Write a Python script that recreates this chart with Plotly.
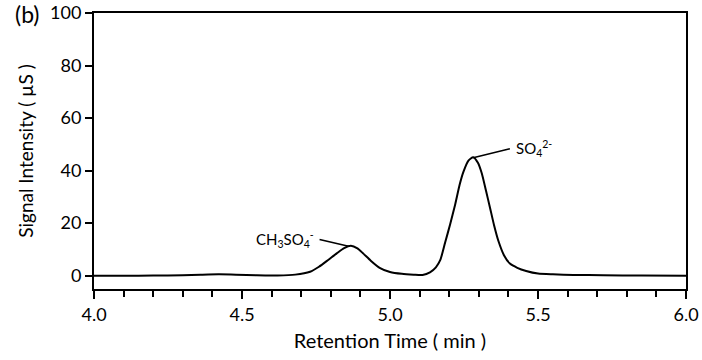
import plotly.graph_objects as go

# Retention time (min) and signal intensity (µS)
time_min = [4.00, 4.10, 4.20, 4.30, 4.36, 4.42, 4.48, 4.55, 4.62, 4.68, 4.73, 4.76, 4.79, 4.82,
            4.845, 4.868, 4.89, 4.91, 4.935, 4.965, 5.00, 5.04, 5.08, 5.11, 5.135, 5.155, 5.17,
            5.186, 5.203, 5.22, 5.235, 5.248, 5.265, 5.281, 5.297, 5.31, 5.324, 5.338, 5.352,
            5.366, 5.385, 5.405, 5.43, 5.46, 5.50, 5.55, 5.62, 5.72, 5.85, 6.00]
signal_us = [0.0, 0.0, 0.05, 0.15, 0.35, 0.5, 0.4, 0.15, 0.1, 0.4, 1.5, 3.4, 5.9, 8.5,
             10.5, 11.4, 10.4, 8.4, 5.7, 3.0, 1.4, 0.7, 0.4, 0.3, 1.3, 3.2, 6.0,
             12.5, 19.5, 27.0, 34.5, 39.5, 43.8, 45.1, 43.0, 39.0, 32.5, 25.8, 19.0,
             13.3, 7.8, 4.6, 3.0, 1.8, 0.8, 0.5, 0.3, 0.15, 0.05, 0.0]

# Peak labels
peak_names = ["CH<sub>3</sub>SO<sub>4</sub><sup>-</sup>", "SO<sub>4</sub><sup>2-</sup>"]
peak_index = [15, 33]
label_time = [4.757, 5.41]
label_signal = [13.9, 48.5]
label_side = ["right", "left"]

x_ticks = [4.0, 4.5, 5.0, 5.5, 6.0]
x_tick_text = ["4.0", "4.5", "5.0", "5.5", "6.0"]
y_ticks = [0, 20, 40, 60, 80, 100]

FONT = "Lato, 'Open Sans', sans-serif"

fig = go.Figure()
fig.add_trace(go.Scatter(x=time_min, y=signal_us, mode="lines",
                         line=dict(color="black", width=2, shape="spline", smoothing=0.6),
                         hoverinfo="skip", showlegend=False))

annotations = []
for name, idx, lx, ly, side in zip(peak_names, peak_index, label_time, label_signal, label_side):
    px, py = time_min[idx], signal_us[idx]
    annotations.append(dict(x=px - 0.008 if side == "right" else px, y=py - 0.2,
                            ax=lx, ay=ly, axref="x", ayref="y",
                            xref="x", yref="y", text="", showarrow=True,
                            arrowhead=0, arrowwidth=1.6, arrowcolor="black"))
    shift = -2 if side == "right" else 3
    annotations.append(dict(x=lx, y=ly, xref="x", yref="y", text=name, showarrow=False,
                            xanchor=side, yanchor="middle", xshift=shift,
                            font=dict(family=FONT, size=15, color="black")))

annotations.append(dict(x=-0.137, y=0.995, xref="paper", yref="paper", text="(b)",
                        showarrow=False, xanchor="left", yanchor="middle",
                        font=dict(family=FONT, size=23, color="black")))

fig.update_layout(
    width=702, height=360,
    margin=dict(l=94, r=16, t=13, b=71, autoexpand=False),
    paper_bgcolor="white", plot_bgcolor="white",
    font=dict(family=FONT, size=18, color="black"),
    annotations=annotations,
    xaxis=dict(range=[4.0, 6.0], tickvals=x_ticks, ticktext=x_tick_text,
               ticks="outside", ticklen=8, tickwidth=1.6, tickcolor="black",
               minor=dict(dtick=0.1, ticks="outside", ticklen=6, tickwidth=1.6, tickcolor="black"),
               showline=True, linecolor="black", linewidth=2, mirror=True,
               showgrid=False, zeroline=False, automargin=False,
               title=dict(text="Retention Time ( min )", standoff=10,
                          font=dict(family=FONT, size=20))),
    yaxis=dict(range=[-5.07, 100], tickvals=y_ticks,
               ticks="outside", ticklen=7, tickwidth=1.6, tickcolor="black",
               showline=True, linecolor="black", linewidth=2, mirror=True,
               showgrid=False, zeroline=False, automargin=False,
               title=dict(text="Signal Intensity ( µS )", standoff=11,
                          font=dict(family=FONT, size=19))),
)

fig.write_html("out.html", config={"displayModeBar": False},
               post_script="document.body.style.margin='0';")
